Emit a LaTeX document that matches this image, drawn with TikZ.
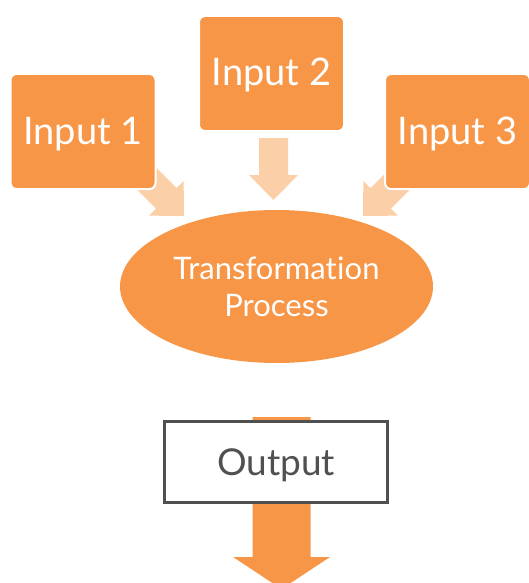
\documentclass[tikz,border=0pt]{standalone}
\usepackage{fontspec}
\setmainfont[Ligatures=NoCommon]{Lato}
\usetikzlibrary{shapes.geometric}
\definecolor{accent}{HTML}{F79646}
\definecolor{accentsoft}{HTML}{FBD0A9}
\definecolor{inkgray}{HTML}{505050}
\begin{document}
\begin{tikzpicture}[x=1pt,y=-1pt,
  inbox/.style={rectangle, rounded corners=6pt, fill=accent, draw=white,
    line width=2pt, minimum width=145pt, minimum height=115pt, inner sep=0pt,
    text=white, font=\fontsize{38}{38}\selectfont, text height=28pt, text depth=3pt},
  procshape/.style={ellipse, fill=accent, draw=none, minimum width=313pt,
    minimum height=153pt, inner sep=0pt, text=white, align=center,
    font=\fontsize{31}{37}\selectfont},
  outbox/.style={rectangle, fill=white, draw=inkgray, line width=3pt,
    minimum width=223pt, minimum height=81pt, inner sep=0pt, text=inkgray,
    font=\fontsize{37}{37}\selectfont, text height=26pt, text depth=0pt},
  feed/.style={fill=accentsoft},
  flow/.style={fill=accent},
  % block arrow with its tip at the origin, pointing down:
  % {shaft half width}{head half width}{head length}{total length}
  pics/fatarrow/.style n args={4}{code={
    \fill (0,0) -- (#2,-#3) -- (#1,-#3) -- (#1,-#4) -- (-#1,-#4)
      -- (-#1,-#3) -- (-#2,-#3) -- cycle;}}]
\useasboundingbox (0,0) rectangle (529,583);
\clip (0,0) rectangle (529,583);

% arrow tips
\coordinate (t1) at (184,216);
\coordinate (t2) at (273.5,200);
\coordinate (t3) at (363,216);
\coordinate (t4) at (281.5,589);

% arrows (drawn first, so the boxes sit on top of their tails)
\pic[feed, rotate=45]  at (t1) {fatarrow={14.5}{24.5}{25}{60}};
\pic[feed]             at (t2) {fatarrow={14.5}{24.5}{25}{62}};
\pic[feed, rotate=-45] at (t3) {fatarrow={14.5}{24.5}{25}{60}};
\pic[flow]             at (t4) {fatarrow={29}{48.5}{32}{172}};

% boxes
\node[inbox] (in1) at (83,131.5) {Input 1};
\node[inbox] (in2) at (271.5,73.5) {Input 2};
\node[inbox] (in3) at (457.5,131.5) {Input 3};
\node[procshape] (proc) at (276.5,286.5) {Transformat\kern0.6pt ion\\Process};
\node[outbox] (out) at (276,462) {Output};
\end{tikzpicture}
\end{document}
